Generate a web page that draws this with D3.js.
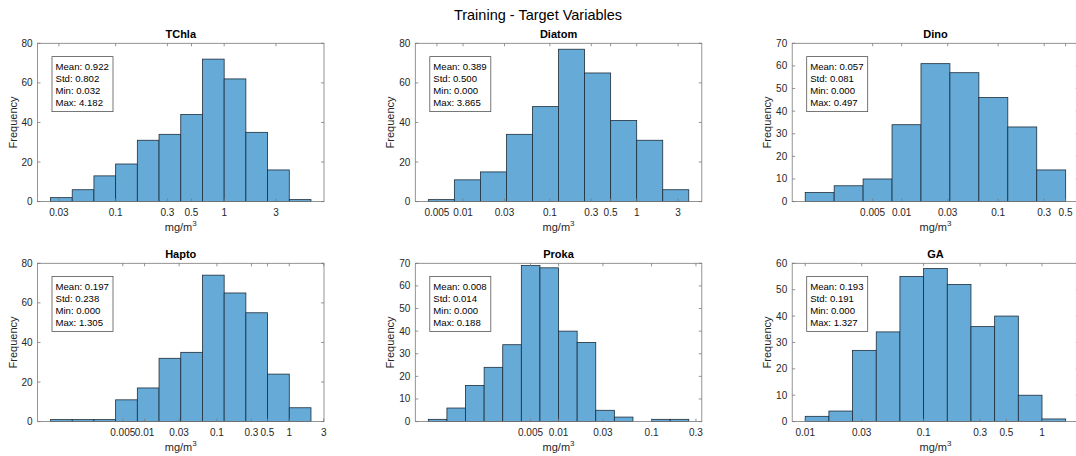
<!DOCTYPE html>
<html>
<head>
<meta charset="utf-8">
<script src="https://cdn.jsdelivr.net/npm/d3@7"></script>
<style>
  body { margin: 0; background: #fff; }
  svg { display: block; font-family: "Liberation Sans", Arial, sans-serif; }
</style>
</head>
<body>
<svg id="fig"></svg>
<script>
const WIDTH = 1076;
const HEIGHT = 456;

// panel data (histograms of log10 values, bins given in log10 units)
const panelNames = ["TChla", "Diatom", "Dino", "Hapto", "Proka", "GA"];
const binStartLog = [-1.6, -2.4, -3.0, -3.3, -3.4, -2.0];
const binStepLog = [0.2, 0.3, 0.3, 0.3, 0.2, 0.2];
const countsTChla = [2, 6, 13, 19, 31, 34, 44, 72, 62, 35, 16, 1];
const countsDiatom = [1, 11, 15, 34, 48, 77, 65, 41, 31, 6];
const countsDino = [4, 7, 10, 34, 61, 57, 46, 33, 14];
const countsHapto = [1, 1, 1, 11, 17, 32, 35, 74, 65, 55, 24, 7];
const countsProka = [1, 6, 16, 24, 34, 69, 68, 40, 35, 5, 2, 0, 1, 1];
const countsGA = [2, 4, 27, 34, 55, 58, 52, 36, 40, 10, 1];
const allCounts = [countsTChla, countsDiatom, countsDino, countsHapto, countsProka, countsGA];

const statMean = ["0.922", "0.389", "0.057", "0.197", "0.008", "0.193"];
const statStd = ["0.802", "0.500", "0.081", "0.238", "0.014", "0.191"];
const statMin = ["0.032", "0.000", "0.000", "0.000", "0.000", "0.000"];
const statMax = ["4.182", "3.865", "0.497", "1.305", "0.188", "1.327"];

const xTicks = [
  [0.03, 0.1, 0.3, 0.5, 1, 3],
  [0.005, 0.01, 0.03, 0.1, 0.3, 0.5, 1, 3],
  [0.005, 0.01, 0.03, 0.1, 0.3, 0.5],
  [0.005, 0.01, 0.03, 0.1, 0.3, 0.5, 1, 3],
  [0.005, 0.01, 0.03, 0.1, 0.3],
  [0.01, 0.03, 0.1, 0.3, 0.5, 1]
];
const yMax = [80, 80, 70, 80, 70, 60];
const yStep = [20, 20, 10, 20, 10, 10];

const colLeft = [37.5, 415.3, 792.2];
const rowTop = [43.3, 263.3];
const axW = 286.5;
const axH = 158.3;

const svg = d3.select("#fig")
  .attr("width", WIDTH)
  .attr("height", HEIGHT);

svg.append("text")
  .attr("x", WIDTH / 2)
  .attr("y", 20)
  .attr("text-anchor", "middle")
  .attr("font-size", 14.5)
  .attr("fill", "#000")
  .text("Training - Target Variables");

const tickColor = "#262626";
const boxColor = "#7a7a7a";

panelNames.forEach((name, i) => {
  const counts = allCounts[i];
  const start = binStartLog[i], step = binStepLog[i];
  const endLog = start + step * counts.length;
  const pad = 0.05 * (endLog - start);
  const x = d3.scaleLog()
    .domain([Math.pow(10, start - pad), Math.pow(10, endLog + pad)])
    .range([0, axW]);
  const y = d3.scaleLinear().domain([0, yMax[i]]).range([axH, 0]);

  const g = svg.append("g")
    .attr("transform", `translate(${colLeft[i % 3]},${rowTop[Math.floor(i / 3)]})`);

  // bars
  const bins = counts.map((c, k) => ({
    lo: Math.pow(10, start + k * step),
    hi: Math.pow(10, start + (k + 1) * step),
    c: c
  }));
  g.append("g").selectAll("rect")
    .data(bins.filter(d => d.c > 0))
    .join("rect")
    .attr("x", d => x(d.lo))
    .attr("width", d => x(d.hi) - x(d.lo))
    .attr("y", d => y(d.c))
    .attr("height", d => axH - y(d.c))
    .attr("fill", "#66aad7")
    .attr("stroke", "#1d2d3a")
    .attr("stroke-width", 0.8);

  // box
  g.append("rect")
    .attr("width", axW).attr("height", axH)
    .attr("fill", "none")
    .attr("stroke", boxColor)
    .attr("stroke-width", 0.8);

  // x ticks (inside, bottom and top)
  const xt = g.append("g");
  xTicks[i].forEach(v => {
    const px = x(v);
    xt.append("line").attr("x1", px).attr("x2", px).attr("y1", axH).attr("y2", axH - 3)
      .attr("stroke", boxColor).attr("stroke-width", 0.8);
    xt.append("line").attr("x1", px).attr("x2", px).attr("y1", 0).attr("y2", 3)
      .attr("stroke", boxColor).attr("stroke-width", 0.8);
    xt.append("text")
      .attr("x", px).attr("y", axH + 14)
      .attr("text-anchor", "middle")
      .attr("font-size", 10)
      .attr("fill", tickColor)
      .text(String(v));
  });

  // y ticks
  const yt = g.append("g");
  d3.range(0, yMax[i] + 0.01, yStep[i]).forEach(v => {
    const py = y(v);
    yt.append("line").attr("x1", 0).attr("x2", 3).attr("y1", py).attr("y2", py)
      .attr("stroke", boxColor).attr("stroke-width", 0.8);
    yt.append("line").attr("x1", axW).attr("x2", axW - 3).attr("y1", py).attr("y2", py)
      .attr("stroke", boxColor).attr("stroke-width", 0.8);
    yt.append("text")
      .attr("x", -5).attr("y", py + 3.5)
      .attr("text-anchor", "end")
      .attr("font-size", 10)
      .attr("fill", tickColor)
      .text(v);
  });

  // title
  g.append("text")
    .attr("x", axW / 2).attr("y", -5)
    .attr("text-anchor", "middle")
    .attr("font-size", 11)
    .attr("font-weight", "bold")
    .attr("fill", "#000")
    .text(name);

  // y label
  g.append("text")
    .attr("transform", `translate(-21,${axH / 2}) rotate(-90)`)
    .attr("text-anchor", "middle")
    .attr("font-size", 11)
    .attr("fill", tickColor)
    .text("Frequency");

  // x label
  const xl = g.append("text")
    .attr("x", axW / 2).attr("y", axH + 29)
    .attr("text-anchor", "middle")
    .attr("font-size", 11)
    .attr("fill", tickColor);
  xl.append("tspan").text("mg/m");
  xl.append("tspan").attr("dy", -4.5).attr("font-size", 8).text("3");

  // stats box
  const sb = g.append("g").attr("transform", "translate(14.5,13.3)");
  sb.append("rect")
    .attr("width", 61).attr("height", 55)
    .attr("fill", "#fff")
    .attr("stroke", "#555")
    .attr("stroke-width", 0.8);
  const lines = ["Mean: " + statMean[i], "Std: " + statStd[i], "Min: " + statMin[i], "Max: " + statMax[i]];
  sb.selectAll("text.stat")
    .data(lines)
    .join("text")
    .attr("class", "stat")
    .attr("x", 3.5)
    .attr("y", (d, k) => 13 + k * 12.2)
    .attr("font-size", 9.6)
    .attr("fill", "#000")
    .text(d => d);
});
</script>
</body>
</html>
